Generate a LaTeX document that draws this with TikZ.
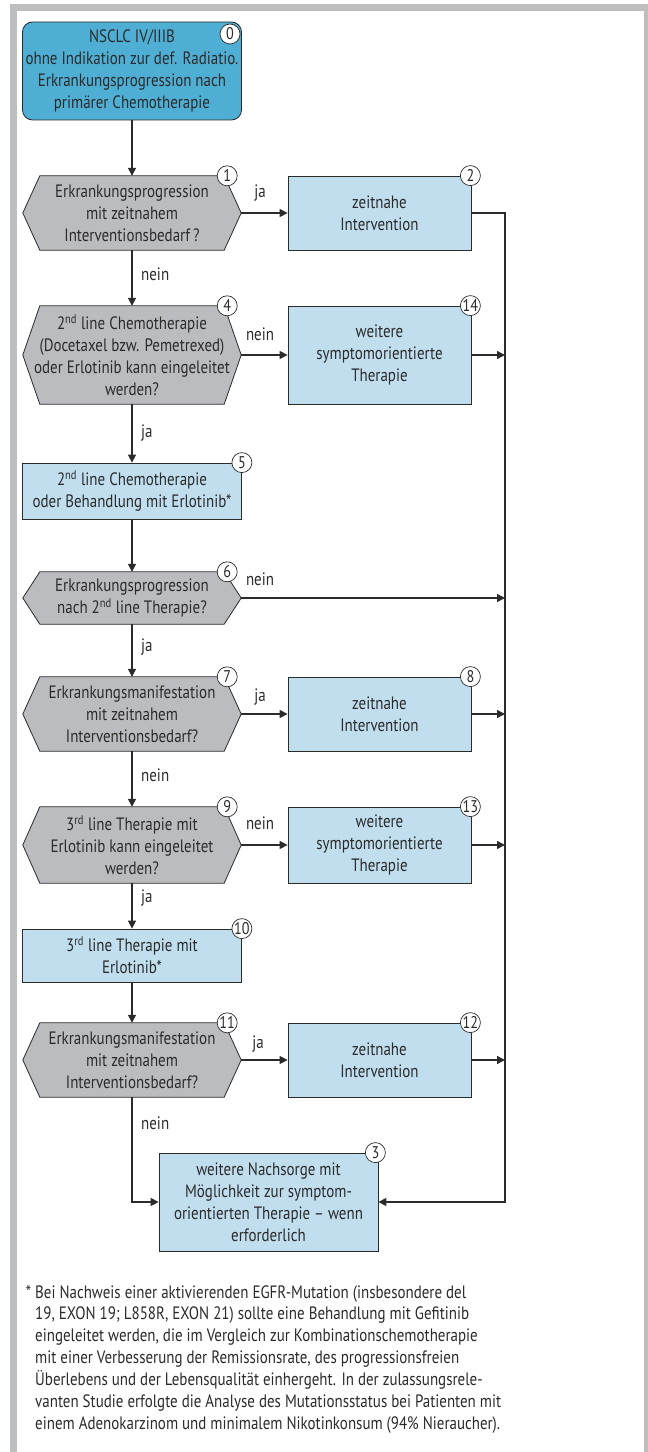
\documentclass[tikz,border=0pt]{standalone}
\usepackage{fontspec}
\setmainfont{PT Sans}[FakeStretch=0.835]
\usetikzlibrary{arrows.meta,backgrounds}
\definecolor{framegray}{HTML}{BDBEC0}
\definecolor{startblue}{HTML}{4FAED3}
\definecolor{lightblue}{HTML}{C0DEEE}
\definecolor{hexgray}{HTML}{BBBCBF}
\definecolor{ink}{HTML}{2B2B2B}
\tikzset{
  txt/.style={font=\fontsize{18}{22}\selectfont, text=ink, align=center},
  startbox/.style={txt, draw=ink, fill=startblue, rounded corners=10bp, line width=0.8bp, inner sep=0pt},
  infobox/.style={txt, draw=ink, fill=lightblue, line width=0.8bp, inner sep=0pt},
  hexnode/.style={txt, inner sep=0pt, minimum width=218bp},
  hexshape/.style={draw=ink, fill=hexgray, line width=0.8bp},
  num/.style={circle, draw=ink, fill=white, line width=0.7bp, minimum size=20bp, inner sep=0pt, font=\fontsize{17}{17}\selectfont, text=ink},
  lbl/.style={font=\fontsize{18}{22}\selectfont, text=ink, inner sep=0pt},
  flow/.style={draw=ink, line width=1.4bp, -{Triangle[length=8bp,width=8bp]}},
}
\begin{document}
\begin{tikzpicture}[x=1bp,y=-1bp]
\useasboundingbox (0,0) rectangle (648,1452);
% nodes
\node[startbox, minimum width=219bp, minimum height=98bp] (n0) at (132,71)
  {NSCLC IV/IIIB\\ohne Indikation zur def. Radiatio.\\Erkrankungsprogression nach\\primärer Chemotherapie};
\node[hexnode, minimum height=74bp] (h1) at (132,213)
  {Erkrankungsprogression\\mit zeitnahem\\Interventionsbedarf\,?};
\node[infobox, minimum width=183bp, minimum height=74bp] (b2) at (379.5,213)
  {zeitnahe\\Intervention};
\node[hexnode, minimum height=98bp] (h4) at (132,355)
  {2\textsuperscript{nd} line Chemotherapie\\(Docetaxel bzw. Pemetrexed)\\oder Erlotinib kann eingeleitet\\werden?};
\node[infobox, minimum width=183bp, minimum height=98bp] (b14) at (379.5,355)
  {weitere\\symptomorientierte\\Therapie};
\node[infobox, minimum width=219bp, minimum height=56bp] (b5) at (132,491)
  {2\textsuperscript{nd} line Chemotherapie\\oder Behandlung mit Erlotinib*};
\node[hexnode, minimum height=52bp] (h6) at (132,598)
  {Erkrankungsprogression\\nach 2\textsuperscript{nd} line Therapie?};
\node[hexnode, minimum height=74bp] (h7) at (132,714)
  {Erkrankungsmanifestation\\mit zeitnahem\\Interventionsbedarf?};
\node[infobox, minimum width=183bp, minimum height=74bp] (b8) at (379.5,714)
  {zeitnahe\\Intervention};
\node[hexnode, minimum height=76bp] (h9) at (132,845)
  {3\textsuperscript{rd} line Therapie mit\\Erlotinib kann eingeleitet\\werden?};
\node[infobox, minimum width=183bp, minimum height=76bp] (b13) at (379.5,845)
  {weitere\\symptomorientierte\\Therapie};
\node[infobox, minimum width=219bp, minimum height=53bp] (b10) at (132,955.5)
  {3\textsuperscript{rd} line Therapie mit\\Erlotinib*};
\node[hexnode, minimum height=74bp] (h11) at (132,1060)
  {Erkrankungsmanifestation\\mit zeitnahem\\Interventionsbedarf?};
\node[infobox, minimum width=183bp, minimum height=74bp] (b12) at (379.5,1060)
  {zeitnahe\\Intervention};
\node[infobox, minimum width=219bp, minimum height=98bp] (b3) at (268.5,1202)
  {weitere Nachsorge mit\\Möglichkeit zur symptom-\\orientierten Therapie – wenn\\erforderlich};
% background: frame and hexagons
\begin{scope}[on background layer]
  \fill[framegray] (10,4) rectangle (648,1452);
  \fill[white] (17,11) rectangle (644,1452);
  \foreach \n in {h1,h4,h6,h7,h9,h11}
    \draw[hexshape] ([xshift=17bp]\n.north west) -- ([xshift=-17bp]\n.north east) -- (\n.east)
      -- ([xshift=-17bp]\n.south east) -- ([xshift=17bp]\n.south west) -- (\n.west) -- cycle;
\end{scope}
% number circles
\node[num] (c0) at (230,34) {0};
\node[num] (c1) at ([xshift=-14bp]h1.north east) {1};
\node[num] (c2) at ([xshift=-1bp]b2.north east) {2};
\node[num] (c4) at ([xshift=-14bp]h4.north east) {4};
\node[num] (c14) at ([xshift=-1bp]b14.north east) {14};
\node[num] (c5) at (b5.north east) {5};
\node[num] (c6) at ([xshift=-14bp]h6.north east) {6};
\node[num] (c7) at ([xshift=-14bp]h7.north east) {7};
\node[num] (c8) at ([xshift=-1bp]b8.north east) {8};
\node[num] (c9) at ([xshift=-14bp]h9.north east) {9};
\node[num] (c13) at ([xshift=-1bp]b13.north east) {13};
\node[num] (c10) at (b10.north east) {10};
\node[num] (c11) at ([xshift=-14bp]h11.north east) {11};
\node[num] (c12) at ([xshift=-1bp]b12.north east) {12};
\node[num] (c3) at ([xshift=-3bp]b3.north east) {3};
% right collector line
\coordinate (rtop) at (505,213);
\coordinate (rbot) at (505,1202);
% connectors
\draw[flow] (n0) -- (h1);
\draw[flow] (h1) -- (b2);
\draw[flow] (b2.east) -- (rtop) -- (rbot) -- (b3.east);
\draw[flow] (h1) -- (h4);
\draw[flow] (h4) -- (b14);
\draw[flow] (b14.east) -- (b14.east -| rtop);
\draw[flow] (h4) -- (b5);
\draw[flow] (b5) -- (h6);
\draw[flow] (h6.east) -- (h6.east -| rtop);
\draw[flow] (h6) -- (h7);
\draw[flow] (h7) -- (b8);
\draw[flow] (b8.east) -- (b8.east -| rtop);
\draw[flow] (h7) -- (h9);
\draw[flow] (h9) -- (b13);
\draw[flow] (b13.east) -- (b13.east -| rtop);
\draw[flow] (h9) -- (b10);
\draw[flow] (b10) -- (h11);
\draw[flow] (h11) -- (b12);
\draw[flow] (b12.east) -- (b12.east -| rtop);
\draw[flow] (h11.south) -- (h11.south |- b3.west) -- (b3.west);
% labels
\node[lbl] (l1) at (260,193) {ja};
\node[lbl, anchor=west] (l2) at (141,274) {nein};
\node[lbl] (l3) at (260,334) {nein};
\node[lbl, anchor=west] (l4) at (141,433) {ja};
\node[lbl] (l5) at (260,579) {nein};
\node[lbl, anchor=west] (l6) at (141,647) {ja};
\node[lbl] (l7) at (260,697) {ja};
\node[lbl, anchor=west] (l8) at (141,775) {nein};
\node[lbl] (l9) at (260,823) {nein};
\node[lbl, anchor=west] (l10) at (141,898) {ja};
\node[lbl] (l11) at (258,1044) {ja};
\node[lbl, anchor=west] (l12) at (141,1123) {nein};
% footnote
\node[txt, align=left, anchor=north west, inner sep=0pt] (fn) at (35,1285)
  {\llap{*\ }Bei Nachweis einer aktivierenden EGFR-Mutation (insbesondere del\\
   19, EXON 19; L858R, EXON 21) sollte eine Behandlung mit Gefitinib\\
   eingeleitet werden, die im Vergleich zur Kombinationschemotherapie\\
   mit einer Verbesserung der Remissionsrate, des progressionsfreien\\
   Überlebens und der Lebensqualität einhergeht. In der zulassungsrele-\\
   vanten Studie erfolgte die Analyse des Mutationsstatus bei Patienten mit\\
   einem Adenokarzinom und minimalem Nikotinkonsum (94\% Nieraucher).};
\end{tikzpicture}
\end{document}
